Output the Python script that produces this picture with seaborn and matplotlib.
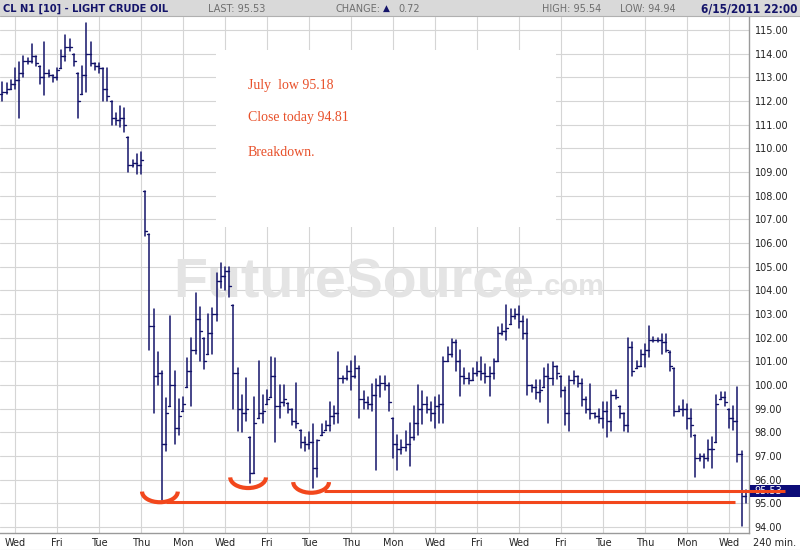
import numpy as np
import pandas as pd
import matplotlib
matplotlib.use("Agg")
import matplotlib.pyplot as plt
from matplotlib.patches import Rectangle, Arc
from matplotlib.transforms import blended_transform_factory
import seaborn as sns

# ---------------- data (240-min OHLC bars) ----------------
highs = [112.8,112.76,112.9,113.4,113.65,113.9,113.8,114.4,113.9,113.5,
         114.5,113.3,113.1,113.4,114.15,114.8,114.6,114.0,113.2,113.5,
         115.3,114.5,113.6,113.6,113.4,113.4,112.0,111.5,111.8,111.7,
         110.5,109.5,109.75,109.85,108.2,106.4,103.2,101.4,100.6,99.45,
         102.9,100.6,99.4,99.5,101.15,102.0,103.9,103.3,102.0,103.0,
         103.27,104.75,105.17,105.0,105.0,103.4,100.7,99.6,100.3,97.8,
         99.5,101.0,99.6,99.8,101.2,101.15,100.0,100.0,99.25,99.0,
         100.1,98.1,97.8,98.0,98.35,97.7,98.35,98.5,99.3,99.1,
         101.4,100.4,100.8,101.0,101.24,100.8,99.76,99.5,100.04,100.25,
         100.4,100.4,100.1,98.6,97.9,97.7,98.07,98.4,99.1,100.0,
         99.76,99.5,99.3,99.5,99.6,101.2,101.6,101.95,101.9,101.5,
         100.7,100.5,100.7,100.96,101.2,100.9,100.75,101.1,102.44,102.6,
         103.4,103.2,103.2,103.35,102.9,102.8,100.0,100.2,100.2,100.7,
         100.9,100.96,100.8,100.4,99.9,100.4,100.6,100.4,100.25,99.5,
         100.04,98.8,99.0,99.27,99.27,99.76,99.8,99.1,98.8,102.0,
         101.8,101.0,101.5,101.75,102.5,102.03,102.0,102.17,102.17,101.46,
         100.7,99.1,99.35,99.2,99.0,97.9,97.1,97.1,97.7,97.8,
         99.56,99.7,99.7,99.0,99.1,99.9,97.2,95.55]

lows = [112.0,112.3,112.5,112.5,111.3,113.0,113.55,113.6,113.5,112.7,
        112.25,113.0,112.8,112.9,113.4,113.7,114.1,113.5,111.3,112.3,
        112.4,113.5,113.3,113.2,112.0,112.0,111.0,111.0,110.9,110.7,
        109.0,109.2,108.9,108.9,106.3,101.5,98.8,100.0,95.15,97.2,
        99.1,97.5,97.9,98.9,99.9,99.1,101.3,101.0,100.66,101.3,
        101.3,102.7,104.1,104.0,103.7,99.0,98.05,98.0,98.5,95.85,
        96.3,98.6,98.4,99.2,99.5,97.6,98.6,99.1,98.8,98.3,
        98.2,97.35,97.2,97.3,95.65,96.1,97.9,98.1,98.07,98.35,
        98.4,100.1,100.2,99.8,100.3,98.6,99.0,99.0,98.9,96.4,
        99.5,99.8,98.9,96.9,96.4,97.1,97.2,96.6,97.7,97.9,
        98.35,98.8,98.5,98.2,98.4,98.4,101.0,101.2,100.6,99.55,
        100.04,100.05,100.2,100.4,100.2,100.1,99.55,100.25,101.0,102.1,
        101.9,102.6,102.8,102.4,101.95,99.6,99.7,99.4,99.27,99.9,
        98.4,100.0,100.25,99.5,98.3,98.07,100.04,99.9,99.1,98.8,
        98.56,98.6,98.4,98.2,97.8,98.07,99.4,98.6,98.07,98.0,
        100.4,100.7,100.8,100.76,101.2,101.8,101.8,101.3,101.4,100.6,
        98.7,98.9,98.7,98.15,97.8,96.1,96.8,96.5,96.8,96.5,
        97.6,99.4,99.1,98.2,98.1,96.75,94.05,95.0]

opens = [112.3,112.4,112.5,112.7,112.9,113.2,113.7,113.7,113.9,113.5,
         113.0,113.2,113.1,113.0,113.4,113.9,114.3,114.0,113.2,112.3,
         113.1,114.0,113.6,113.5,113.4,112.5,112.0,111.3,111.2,111.3,
         110.5,109.3,109.4,109.3,108.2,106.4,102.5,100.4,100.5,97.5,
         99.1,100.0,98.2,98.9,99.9,100.6,101.5,102.8,102.0,101.3,
         102.2,103.0,104.4,104.6,104.8,103.4,100.5,99.0,98.8,97.8,
         96.3,98.6,98.8,99.2,99.5,100.4,99.1,99.3,99.25,99.0,
         98.5,98.1,97.6,97.5,97.6,96.5,97.9,98.1,98.3,98.7,
         98.8,100.3,100.3,100.6,100.4,100.7,99.4,99.3,99.2,99.6,
         100.0,100.1,100.0,98.6,97.5,97.3,97.4,97.5,97.8,98.4,
         99.0,99.2,99.0,98.8,99.1,99.2,101.0,101.3,101.8,101.0,
         100.4,100.3,100.2,100.5,100.6,100.5,100.4,100.5,101.0,102.2,
         102.3,102.6,102.9,103.0,102.7,102.2,100.0,99.9,99.7,99.9,
         100.4,100.3,100.8,100.4,99.8,98.8,100.2,100.4,100.1,99.4,
         99.0,98.8,98.7,98.6,98.9,98.5,99.6,99.1,98.8,98.3,
         101.6,100.7,100.8,101.3,101.5,101.9,101.9,101.9,101.8,101.4,
         100.7,98.9,99.0,99.0,98.6,97.9,96.9,97.0,96.9,97.3,
         97.6,99.4,99.5,99.0,98.6,98.5,97.1,95.3]

closes = [112.4,112.5,112.7,112.9,113.2,113.7,113.7,113.9,113.6,113.0,
          113.2,113.1,113.0,113.3,113.9,114.3,114.3,113.7,112.0,113.1,
          114.0,113.6,113.5,113.4,112.5,112.2,111.3,111.2,111.3,111.0,
          109.3,109.4,109.3,109.5,106.5,102.5,100.4,100.5,97.5,98.8,
          100.0,98.2,98.7,99.2,100.6,101.5,102.8,102.3,101.0,102.2,
          103.0,104.4,104.6,104.8,104.2,100.5,99.0,98.8,99.0,96.3,
          98.4,98.8,98.9,99.4,100.4,99.1,99.3,99.4,99.0,98.5,
          98.4,97.6,97.5,97.6,96.5,97.7,98.0,98.3,98.7,98.8,
          100.3,100.3,100.6,100.4,100.7,99.4,99.3,99.2,99.6,100.0,
          100.1,100.0,99.3,97.5,97.3,97.4,97.5,97.8,98.4,99.0,
          99.2,99.0,98.8,99.1,99.2,101.0,101.3,101.8,101.0,100.4,
          100.3,100.2,100.5,100.6,100.5,100.4,100.5,101.0,102.2,102.3,
          102.4,102.9,103.0,102.7,102.2,100.0,99.9,99.7,99.8,100.4,
          100.3,100.8,100.5,99.8,98.8,100.2,100.4,100.1,99.4,99.0,
          98.8,98.7,98.6,98.9,98.5,99.6,99.5,98.8,98.3,101.6,
          100.6,100.8,101.3,101.5,101.9,101.9,101.9,101.8,101.5,100.8,
          98.9,99.0,99.0,98.6,98.3,96.9,97.0,96.9,97.3,97.3,
          99.2,99.5,99.3,98.6,98.5,97.1,95.3,95.53]

day_labels = ["Wed", "Fri", "Tue", "Thu", "Mon", "Wed", "Fri", "Tue", "Thu",
              "Mon", "Wed", "Fri", "Wed", "Fri", "Tue", "Thu", "Mon", "Wed"]
day_bar_index = [3, 13, 23, 33, 43, 53, 63, 73, 83, 93, 103, 113, 123, 133,
                 143, 153, 163, 173]
price_ticks = list(range(94, 116))
marked_lows = [38, 59, 74]          # bars of the three circled lows
support_levels = [95.08, 95.52]     # drawn breakdown lines
last_price = 95.53

title_text = "CL N1 [10] - LIGHT CRUDE OIL"
header_last = "LAST: 95.53"
header_change = "0.72"
header_high = "HIGH: 95.54"
header_low = "LOW: 94.94"
header_date = "6/15/2011 22:00"
notes = ["July  low 95.18", "Close today 94.81", "Breakdown."]

# ---------------- style ----------------
W, H = 800, 550
NAVY = "#14146a"
RED = "#f2471c"
GRID = "#d5d5d5"
sns.set_theme(style="white")
plt.rcParams["font.family"] = ["DejaVu Sans"]

fig = plt.figure(figsize=(W / 100, H / 100), dpi=100)
fig.patch.set_facecolor("white")

AX_L, AX_R, AX_T, AX_B = 0, 749, 17, 533
ax = fig.add_axes([AX_L / W, 1 - AX_B / H, (AX_R - AX_L) / W, (AX_B - AX_T) / H])
ax.set_facecolor("white")

n = len(highs)
bars = np.arange(n)

# high-low ranges
rng = pd.DataFrame({"bar": np.concatenate([bars, bars]),
                    "price": np.array(highs + lows)})
sns.lineplot(data=rng, x="bar", y="price", units="bar", estimator=None,
             sort=False, color=NAVY, lw=1.1, ax=ax, legend=False, zorder=3)
# open ticks (left)
o_df = pd.DataFrame({"bar": np.concatenate([bars, bars]),
                     "x": np.concatenate([bars - 0.48, bars.astype(float)]),
                     "price": np.array(opens + opens)})
sns.lineplot(data=o_df, x="x", y="price", units="bar", estimator=None,
             sort=False, color=NAVY, lw=1.0, ax=ax, legend=False, zorder=3)
# close ticks (right)
c_df = pd.DataFrame({"bar": np.concatenate([bars, bars]),
                     "x": np.concatenate([bars.astype(float), bars + 0.48]),
                     "price": np.array(closes + closes)})
sns.lineplot(data=c_df, x="x", y="price", units="bar", estimator=None,
             sort=False, color=NAVY, lw=1.0, ax=ax, legend=False, zorder=3)

# scales
x_left = -2.4 / 4.2
x_right = (AX_R - 2.4) / 4.2
ax.set_xlim(x_left, x_right)
ax.set_ylim(93.75, 115.55)

ax.set_xticks(day_bar_index)
ax.set_xticklabels(day_labels)
ax.set_yticks(price_ticks)
ax.set_yticklabels([f"{v:.2f}" for v in price_ticks])
ax.yaxis.tick_right()
ax.tick_params(axis="y", length=0, pad=4, labelsize=7, labelcolor="#222222")
ax.tick_params(axis="x", length=0, pad=3.5, labelsize=7, labelcolor="#222222")
ax.set_xlabel("")
ax.set_ylabel("")
ax.grid(True, color=GRID, lw=0.8)
ax.set_axisbelow(True)
for s in ["top", "left"]:
    ax.spines[s].set_visible(False)
for s in ["right", "bottom"]:
    ax.spines[s].set_color("#9a9a9a")
    ax.spines[s].set_linewidth(1.0)

# blank box behind the notes
axh = AX_B - AX_T
ax.add_patch(Rectangle((216 / AX_R, (AX_B - 227) / axh), (556 - 216) / AX_R,
                       (227 - 50) / axh, transform=ax.transAxes,
                       facecolor="white", edgecolor="none", zorder=1))

# watermark
ax.text(173 / W, 1 - 297 / H, "FutureSource", transform=fig.transFigure,
        fontsize=40, fontweight="bold", color="#e4e4e4", va="baseline",
        ha="left", family=["Liberation Sans", "DejaVu Sans"], zorder=1.5)
ax.text(536 / W, 1 - 295 / H, ".com", transform=fig.transFigure,
        fontsize=21, fontweight="bold", color="#e4e4e4", va="baseline",
        ha="left", family=["Liberation Sans", "DejaVu Sans"], zorder=1.5)

# notes
for txt, yb in zip(notes, [89, 121, 156]):
    ax.text(248 / W, 1 - yb / H, txt, transform=fig.transFigure, fontsize=10,
            color="#e8502a", va="baseline", ha="left",
            family=["Liberation Serif", "DejaVu Serif"], zorder=4)

# breakdown lines
ax.hlines(support_levels[0], marked_lows[0] + 1.0, n - 3.5, color=RED, lw=2.2,
          zorder=5, clip_on=False)
ax.hlines(support_levels[1], marked_lows[2] + 2.5, x_right + 8.5, color=RED,
          lw=2.2, zorder=6, clip_on=False)

# circled lows
for k, idx in enumerate(marked_lows):
    bottom = lows[idx] - (0.1 if k == 0 else 0.2)
    ax.add_patch(Arc((idx - 0.5, bottom + 0.45), width=8.5, height=0.9,
                     theta1=180, theta2=360, color=RED, lw=3.0, zorder=5))

# last price marker on the right scale
bt = blended_transform_factory(ax.transAxes, ax.transData)
ax.add_patch(Rectangle((1.0015, last_price - 0.26), (W - AX_R) / AX_R, 0.52,
                       transform=bt, facecolor="#0c0c78", edgecolor="none",
                       clip_on=False, zorder=4))
ax.text(1 + 5 / AX_R, last_price, f"{last_price:.2f}", transform=bt,
        color="white", fontsize=7, va="center", ha="left", zorder=4.5,
        clip_on=False)

# header band
fig.add_artist(Rectangle((0, 1 - 16 / H), 1, 16 / H, transform=fig.transFigure,
                         facecolor="#d9d9d9", edgecolor="none"))
fig.add_artist(plt.Line2D([0, 1], [1 - 16 / H, 1 - 16 / H],
                          transform=fig.transFigure, color="#b0b0b0", lw=0.8))
hy = 1 - 8.5 / H
fig.text(3 / W, hy, title_text, fontsize=7.9, fontweight="bold", color=NAVY,
         va="center", ha="left", fontstretch="condensed")
fig.text(208 / W, hy, header_last, fontsize=7, color="#6e6e6e", va="center")
fig.text(335 / W, hy, "CHANGE:", fontsize=7, color="#6e6e6e", va="center")
fig.text(383 / W, hy, "\u25b2", fontsize=6.5, color=NAVY, va="center")
fig.text(398 / W, hy, header_change, fontsize=7, color="#6e6e6e", va="center")
fig.text(542 / W, hy, header_high, fontsize=7, color="#6e6e6e", va="center")
fig.text(620 / W, hy, header_low, fontsize=7, color="#6e6e6e", va="center")
fig.text(797 / W, hy, header_date, fontsize=8.5, fontweight="bold", color=NAVY,
         va="center", ha="right", fontstretch="condensed")

fig.text(753 / W, 1 - 543 / H, "240 min.", fontsize=7, color="#222222",
         va="center", ha="left")
fig.add_artist(plt.Line2D([0, 1], [1 - 549.5 / H, 1 - 549.5 / H],
                          transform=fig.transFigure, color="#b0b0b0", lw=0.8))

fig.savefig("out.png", dpi=100)
